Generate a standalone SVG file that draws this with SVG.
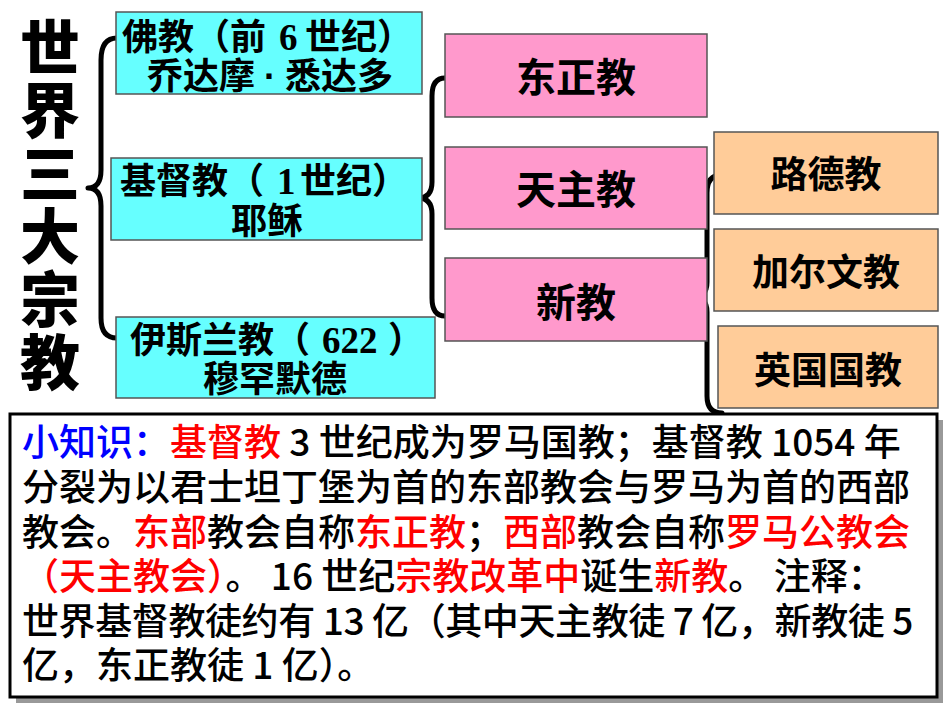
<svg xmlns="http://www.w3.org/2000/svg" width="950" height="713" viewBox="0 0 950 713">
<style>
.cy{fill:#66FFFF;stroke:#555;stroke-width:1.5}
.pk{fill:#FF99CC;stroke:#555;stroke-width:1.5}
.or{fill:#FFCC99;stroke:#555;stroke-width:1.5}
.bt{font-family:"Noto Sans CJK SC","Liberation Sans",sans-serif;font-weight:bold;font-size:36px;fill:#000}
.n{font-family:"Liberation Serif",serif;font-weight:bold;font-size:37px}
.dot{font-family:"Liberation Sans",sans-serif}
.big{font-family:"Noto Sans CJK SC","Liberation Sans",sans-serif;font-weight:bold;font-size:40px;fill:#000;text-anchor:middle}
.mid{font-family:"Noto Sans CJK SC","Liberation Sans",sans-serif;font-weight:bold;font-size:37px;fill:#000;text-anchor:middle}
.title{font-family:"Noto Sans CJK SC","Liberation Sans",sans-serif;font-weight:900;font-size:60px;fill:#000;writing-mode:vertical-rl;letter-spacing:3px}
.tx{font-family:"Noto Sans CJK SC","Liberation Sans",sans-serif;font-weight:500;font-size:37px;fill:#000}
.r{fill:#FF0000}
.b{fill:#0000FF}
.br{fill:none;stroke:#000;stroke-width:5;stroke-linecap:round;stroke-linejoin:round}
</style>
<rect width="950" height="713" fill="#fff"/>
<g id="title">
<text class="title" x="50" y="17">世界三大宗教</text>
</g>
<g id="connectors">
<path class="br" d="M117,38 Q101,38 101,60 L101,170 Q101,188 88,188 Q101,188 101,206 L101,318 Q101,338 117,338"/>
<path class="br" d="M445,78 Q432,78 432,96 L432,182 Q432,198 418,198 Q432,198 432,214 L432,298 Q432,316 445,316"/>
<path class="br" d="M721,175 Q707,175 707,193 L707,282 Q707,297 693,297 Q707,297 707,312 L707,396 Q707,413 722,413"/>
</g>
<g id="buddhism">
<rect class="cy" x="116" y="12" width="306" height="82"/>
<text class="bt"><tspan x="122" y="50">佛教（前</tspan><tspan class="n" x="279" y="50">6</tspan><tspan x="305" y="50">世纪）</tspan><tspan x="147" y="89">乔达摩</tspan><tspan class="dot" x="264" y="89">·</tspan><tspan x="285" y="89">悉达多</tspan></text>
</g>
<g id="christianity">
<rect class="cy" x="111" y="158" width="311" height="82"/>
<text class="bt"><tspan x="120" y="194">基督教（</tspan><tspan class="n" x="277" y="194">1</tspan><tspan x="300" y="194">世纪）</tspan><tspan x="231" y="234">耶稣</tspan></text>
</g>
<g id="islam">
<rect class="cy" x="116" y="317" width="319" height="81"/>
<text class="bt"><tspan x="130" y="353">伊斯兰教（</tspan><tspan class="n" x="322" y="353">622</tspan><tspan x="388" y="353">）</tspan><tspan x="203" y="392">穆罕默德</tspan></text>
</g>
<g id="orthodox">
<rect class="pk" x="445" y="34" width="262" height="83"/>
<text class="big" x="576" y="92">东正教</text>
</g>
<g id="catholic">
<rect class="pk" x="445" y="147" width="262" height="82"/>
<text class="big" x="576" y="204">天主教</text>
</g>
<g id="protestant">
<rect class="pk" x="445" y="258" width="262" height="83"/>
<text class="big" x="576" y="317">新教</text>
</g>
<g id="lutheran">
<rect class="or" x="714" y="132" width="224" height="82"/>
<text class="mid" x="826" y="188">路德教</text>
</g>
<g id="calvinist">
<rect class="or" x="714" y="229" width="224" height="82"/>
<text class="mid" x="826" y="286">加尔文教</text>
</g>
<g id="anglican">
<rect class="or" x="718" y="326" width="220" height="82"/>
<text class="mid" x="828" y="384">英国国教</text>
</g>
<g id="note">
<rect x="16" y="420" width="927" height="283" fill="#999"/>
<rect x="10" y="414" width="927" height="283" fill="#fff" stroke="#000" stroke-width="3"/>
<text class="tx"><tspan class="b" x="22" y="456">小知识：</tspan><tspan class="r">基督教</tspan><tspan> 3 世纪成为罗马国教；基督教 1054 年</tspan><tspan x="22" y="501">分裂为以君士坦丁堡为首的东部教会与罗马为首的西部</tspan><tspan x="22" y="546">教会。</tspan><tspan class="r">东部</tspan><tspan>教会自称</tspan><tspan class="r">东正教</tspan><tspan>；</tspan><tspan class="r">西部</tspan><tspan>教会自称</tspan><tspan class="r">罗马公教会</tspan><tspan class="r" x="22" y="590">（天主教会）</tspan><tspan>。 16 世纪</tspan><tspan class="r">宗教改革中</tspan><tspan>诞生</tspan><tspan class="r">新教</tspan><tspan>。 注释：</tspan><tspan x="22" y="635" letter-spacing="-0.4">世界基督教徒约有 13 亿（其中天主教徒 7 亿，新教徒 5</tspan><tspan x="22" y="679">亿，东正教徒 1 亿）。</tspan></text>
</g>
</svg>
